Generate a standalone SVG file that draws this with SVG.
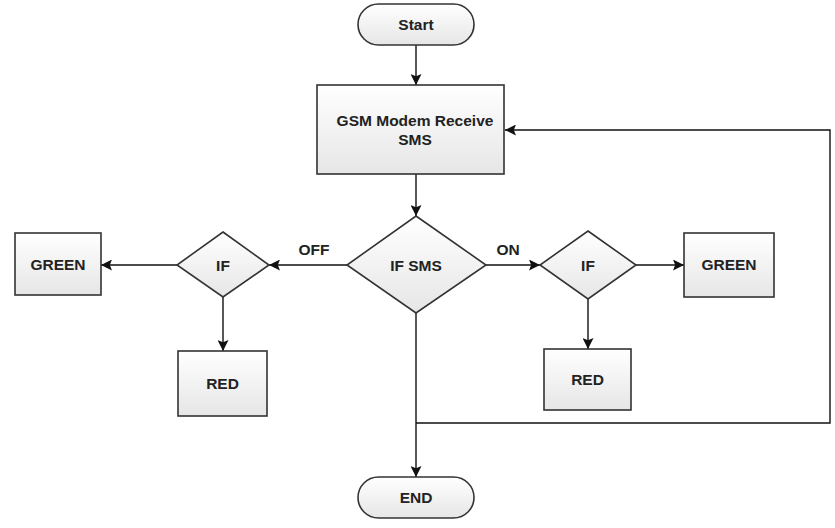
<svg xmlns="http://www.w3.org/2000/svg" width="835" height="528" viewBox="0 0 835 528">
<defs>
<linearGradient id="g" x1="0" y1="0" x2="0" y2="1">
<stop offset="0" stop-color="#ffffff"/>
<stop offset="1" stop-color="#e6e6e6"/>
</linearGradient>
<marker id="ah" viewBox="0 0 10 10" refX="10" refY="5" markerWidth="11" markerHeight="11" markerUnits="userSpaceOnUse" orient="auto">
<path d="M0,0 L10,5 L0,10 L2,5 Z" fill="#111"/>
</marker>
</defs>
<style>
.s{fill:url(#g);stroke:#333;stroke-width:1.6}
.t{font-family:"Liberation Sans",Arial,sans-serif;font-weight:bold;font-size:15.5px;fill:#222;text-anchor:middle}
.c{fill:none;stroke:#111;stroke-width:1.4}
</style>
<rect width="835" height="528" fill="#fff"/>
<g id="connectors">
<line class="c" x1="416" y1="45" x2="416" y2="85" marker-end="url(#ah)"/>
<line class="c" x1="416" y1="174" x2="416" y2="216" marker-end="url(#ah)"/>
<line class="c" x1="347" y1="265" x2="269" y2="265" marker-end="url(#ah)"/>
<line class="c" x1="177" y1="265" x2="101" y2="265" marker-end="url(#ah)"/>
<line class="c" x1="223" y1="297" x2="223" y2="351" marker-end="url(#ah)"/>
<line class="c" x1="486" y1="265" x2="540" y2="265" marker-end="url(#ah)"/>
<line class="c" x1="636" y1="265" x2="684" y2="265" marker-end="url(#ah)"/>
<line class="c" x1="588" y1="299" x2="588" y2="349" marker-end="url(#ah)"/>
<line class="c" x1="416" y1="313" x2="416" y2="477" marker-end="url(#ah)"/>
<polyline class="c" points="416,423 830,423 830,130 505,130" marker-end="url(#ah)"/>
<text class="t" x="314" y="255">OFF</text>
<text class="t" x="508" y="255">ON</text>
</g>
<g id="start">
<rect class="s" x="358" y="4" width="116" height="41" rx="20.5"/>
<text class="t" x="416" y="30">Start</text>
</g>
<g id="gsm">
<rect class="s" x="317" y="85" width="187" height="89"/>
<text class="t" x="415" y="126">GSM Modem Receive</text>
<text class="t" x="415" y="145">SMS</text>
</g>
<g id="ifsms">
<polygon class="s" points="416,216 486,265 416,313 347,265"/>
<text class="t" x="416" y="271">IF SMS</text>
</g>
<g id="ifleft">
<polygon class="s" points="223,232 269,265 223,297 177,265"/>
<text class="t" x="223" y="271">IF</text>
</g>
<g id="greenleft">
<rect class="s" x="15" y="233" width="86" height="62"/>
<text class="t" x="58" y="270">GREEN</text>
</g>
<g id="redleft">
<rect class="s" x="178" y="351" width="89" height="65"/>
<text class="t" x="222.5" y="389">RED</text>
</g>
<g id="ifright">
<polygon class="s" points="588,231 636,265 588,299 540,265"/>
<text class="t" x="588" y="271">IF</text>
</g>
<g id="greenright">
<rect class="s" x="684" y="233" width="90" height="64"/>
<text class="t" x="729" y="270">GREEN</text>
</g>
<g id="redright">
<rect class="s" x="544" y="349" width="87" height="61"/>
<text class="t" x="587.5" y="385">RED</text>
</g>
<g id="end">
<rect class="s" x="358" y="477" width="116" height="41" rx="20.5"/>
<text class="t" x="416" y="503">END</text>
</g>
</svg>
